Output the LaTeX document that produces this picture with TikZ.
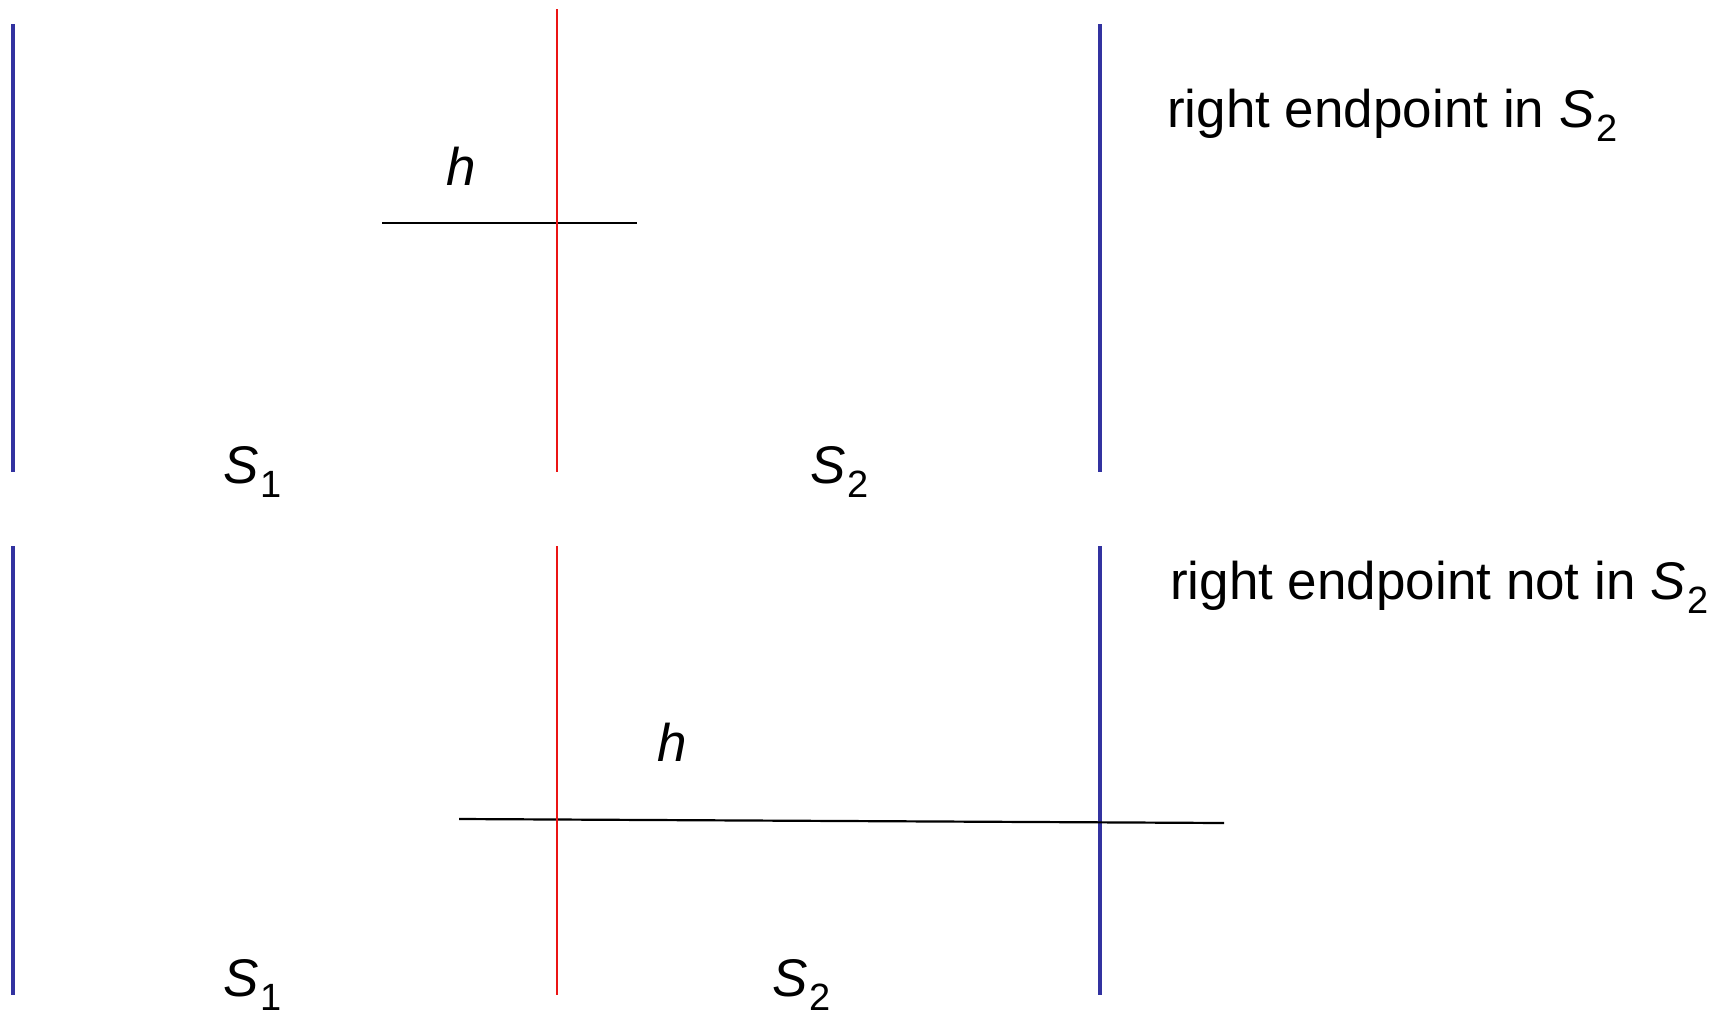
\documentclass[tikz,border=0pt]{standalone}
\usepackage{fontspec}
\setmainfont{Liberation Sans}
\definecolor{slabblue}{RGB}{50,50,160}
\definecolor{splitred}{RGB}{235,20,20}
\newcommand\Sidx[1]{\textit{S}\kern0.03em\raisebox{-0.27em}{\fontsize{38}{42}\selectfont #1}}
\begin{document}
\begin{tikzpicture}[x=1pt,y=-1pt,
  lbl/.style={inner sep=0pt,font=\fontsize{53}{63}\selectfont},
  slab/.style={draw=slabblue,line width=3.5pt},
  split/.style={draw=splitred,line width=1.8pt},
  seg/.style={draw=black,line width=2.2pt}]
\useasboundingbox (0,0) rectangle (1729,1017);
% ---------- top panel ----------
\coordinate (a1) at (13,24);   \coordinate (a2) at (13,472);
\coordinate (r1) at (557,9);   \coordinate (r2) at (557,472);
\coordinate (b1) at (1100,24); \coordinate (b2) at (1100,472);
\coordinate (h1) at (382,223); \coordinate (h2) at (637,223);
\draw[slab] (a1) -- (a2);
\draw[slab] (b1) -- (b2);
\draw[seg] (h1) -- (h2);
\draw[split] (r1) -- (r2);
\node[lbl,anchor=base] (ht) at (461,185) {\textit{h}};
\node[lbl,anchor=base] (s1t) at (253,483) {\Sidx{1}};
\node[lbl,anchor=base] (s2t) at (840,483) {\Sidx{2}};
\node[lbl,anchor=base west] (t1) at (1167,127) {right endpoint in \Sidx{2}};
% ---------- bottom panel ----------
\coordinate (c1) at (13,546);   \coordinate (c2) at (13,995);
\coordinate (q1) at (557,546);  \coordinate (q2) at (557,995);
\coordinate (d1) at (1100,546); \coordinate (d2) at (1100,995);
\coordinate (g1) at (459,819);  \coordinate (g2) at (1224,823);
\draw[slab] (c1) -- (c2);
\draw[slab] (d1) -- (d2);
\draw[seg] (g1) -- (g2);
\draw[split] (q1) -- (q2);
\node[lbl,anchor=base] (hb) at (672,761) {\textit{h}};
\node[lbl,anchor=base] (s1b) at (253,996) {\Sidx{1}};
\node[lbl,anchor=base] (s2b) at (802,996) {\Sidx{2}};
\node[lbl,anchor=base west] (t2) at (1170,599) {right endpoint not in \Sidx{2}};
\end{tikzpicture}
\end{document}
